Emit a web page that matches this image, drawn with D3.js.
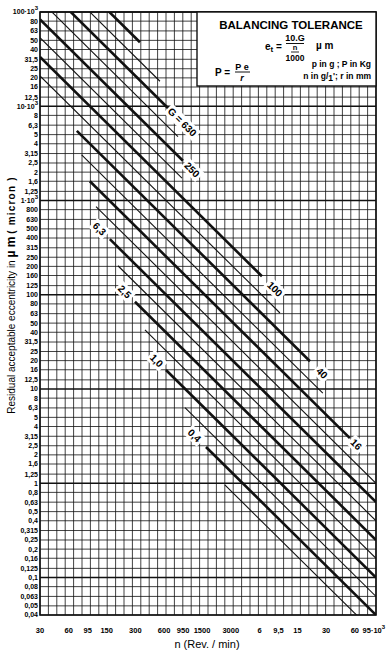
<!DOCTYPE html>
<html><head><meta charset="utf-8">
<script src="https://cdn.jsdelivr.net/npm/d3@7"></script>
<style>body{margin:0;background:#fff}svg{display:block}</style>
</head><body><svg id="c" width="392" height="653"></svg>
<script>
// ---------------- data ----------------
const yTickValues = [100000,80000,63000,50000,40000,31500,25000,20000,16000,12500,
  10000,8000,6300,5000,4000,3150,2500,2000,1600,1250,
  1000,800,630,500,400,315,250,200,160,125,
  100,80,63,50,40,31.5,25,20,16,12.5,
  10,8,6.3,5,4,3.15,2.5,2,1.6,1.25,
  1,0.8,0.63,0.5,0.4,0.315,0.25,0.2,0.16,0.125,
  0.1,0.08,0.063,0.05,0.04];
const yTickLabels = ["100·10^3","80","63","50","40","31,5","25","20","16","12,5",
  "10·10^3","8","6,3","5","4","3,15","2,5","2","1,6","1,25",
  "1·10^3","800","630","500","400","315","250","200","160","125",
  "100","80","63","50","40","31,5","25","20","16","12,5",
  "10","8","6,3","5","4","3,15","2,5","2","1,6","1,25",
  "1","0,8","0,63","0,5","0,4","0,315","0,25","0,2","0,16","0,125",
  "0,1","0,08","0,063","0,05","0,04"];
const xTickValues = [30,60,95,150,300,600,950,1500,3000,6000,9500,15000,30000,60000,95000];
const xTickLabels = ["30","60","95","150","300","600","950","1500","3000","6","9,5","15","30","60","95·10^3"];

// balance-quality lines: e = 10000·G / n  (µm), drawn from gStartN to gEndN
const gValues = [1600,1000,630,400,250,160,100,63,40,25,16,10,6.3,4,2.5,1.6,1,0.63,0.4,0.25];
const gThick  = [1,0,1,0,1,0,1,0,1,0,1,0,1,0,1,0,1,0,1,0];
const gStartN = [30,30,30,30,30,30,30,30,73,82,100,116,162,197,297,378,628,993,1650,2600];
const gEndN   = [335,543,762,839,946,924,6370,9840,20300,27700,53200,100000,100000,100000,100000,100000,100000,100000,100000,100000];

const gLabelText = ["G = 630","250","100","40","16","6,3","2,5","1,0","0,4"];
const gLabelG    = [630,250,100,40,16,6.3,2.5,1,0.4];
const gLabelN    = [927,1178,8700,27100,62000,126,232,500,1250];

// ---------------- layout ----------------
const svg = d3.select("#c");
const x = d3.scaleLog().domain([30,100000]).range([40,376]);
const y = d3.scaleLog().domain([0.04,100000]).range([615,12]);
const col = d3.scaleLinear().domain([0,40]).range(x.range());
const ink = "#111";
const font = "'Liberation Sans', Arial, sans-serif";

svg.append("defs").append("clipPath").attr("id","plot")
  .append("rect").attr("x",40).attr("y",12).attr("width",336).attr("height",603);

const grid = svg.append("g");
grid.selectAll("line.v").data(d3.range(41)).join("line")
  .attr("x1",d=>col(d)).attr("x2",d=>col(d)).attr("y1",12).attr("y2",615)
  .attr("stroke",ink).attr("stroke-width",0.8);
grid.selectAll("line.h").data(yTickValues).join("line")
  .attr("x1",40).attr("x2",376).attr("y1",d=>y(d)).attr("y2",d=>y(d))
  .attr("stroke",ink)
  .attr("stroke-width",(d,i)=> (i%10===0 ? 1.6 : 0.8));

// diagonal lines
const lineG = svg.append("g").attr("clip-path","url(#plot)");
lineG.selectAll("line").data(gValues).join("line")
  .attr("x1",(d,i)=>x(gStartN[i])).attr("y1",(d,i)=>y(10000*d/gStartN[i]))
  .attr("x2",(d,i)=>x(gEndN[i])).attr("y2",(d,i)=>y(10000*d/gEndN[i]))
  .attr("stroke",ink).attr("stroke-width",(d,i)=>gThick[i]?2.6:1.1);

// frame
svg.append("rect").attr("x",40).attr("y",12).attr("width",336).attr("height",603)
  .attr("fill","none").attr("stroke",ink).attr("stroke-width",1.6);

// labels on lines
const slopeAngle = Math.atan((603/Math.log10(100000/0.04))/(336/Math.log10(100000/30)))*180/Math.PI;
const lab = svg.append("g");
gLabelText.forEach((t,i)=>{
  const px = x(gLabelN[i]), py = y(10000*gLabelG[i]/gLabelN[i]);
  const g = lab.append("g").attr("transform",`translate(${px},${py}) rotate(${slopeAngle})`);
  const tx = g.append("text").attr("text-anchor","middle").attr("dy","0.35em")
    .attr("font-family",font).attr("font-weight","bold").attr("font-size",10).text(t);
  const bb = tx.node().getBBox();
  g.insert("rect","text").attr("x",bb.x-2).attr("y",bb.y-1).attr("width",bb.width+4).attr("height",bb.height+2).attr("fill","#fff");
});

// info box
const box = svg.append("g");
box.append("rect").attr("x",197).attr("y",12).attr("width",179).attr("height",74)
  .attr("fill","#fff").attr("stroke",ink).attr("stroke-width",1.4);
box.append("text").attr("x",291).attr("y",29).attr("text-anchor","middle")
  .attr("font-family",font).attr("font-weight","bold").attr("font-size",11.5).text("BALANCING TOLERANCE");
// e_t formula
box.append("text").attr("x",265).attr("y",50).attr("font-family",font).attr("font-weight","bold").attr("font-size",10)
  .html('e<tspan dy="2" font-size="8">t</tspan><tspan dy="-2"> =</tspan>');
box.append("text").attr("x",295).attr("y",41).attr("text-anchor","middle").attr("font-family",font).attr("font-weight","bold").attr("font-size",9).text("10.G");
box.append("line").attr("x1",286).attr("x2",304).attr("y1",43.5).attr("y2",43.5).attr("stroke",ink).attr("stroke-width",1);
box.append("text").attr("x",295).attr("y",50).attr("text-anchor","middle").attr("font-family",font).attr("font-weight","bold").attr("font-size",7.5).text("n");
box.append("line").attr("x1",291).attr("x2",299).attr("y1",52).attr("y2",52).attr("stroke",ink).attr("stroke-width",0.9);
box.append("text").attr("x",295).attr("y",60.5).attr("text-anchor","middle").attr("font-family",font).attr("font-weight","bold").attr("font-size",8.5).text("1000");
box.append("text").attr("x",316).attr("y",49).attr("font-family",font).attr("font-weight","bold").attr("font-size",10).text("µ m");
// P formula
box.append("text").attr("x",215).attr("y",76).attr("font-family",font).attr("font-weight","bold").attr("font-size",10).text("P =");
box.append("text").attr("x",242).attr("y",70).attr("text-anchor","middle").attr("font-family",font).attr("font-weight","bold").attr("font-size",9).text("P e");
box.append("line").attr("x1",235).attr("x2",250).attr("y1",72).attr("y2",72).attr("stroke",ink).attr("stroke-width",1);
box.append("text").attr("x",242).attr("y",81).attr("text-anchor","middle").attr("font-family",font).attr("font-weight","bold").attr("font-style","italic").attr("font-size",9).text("r");
box.append("text").attr("x",371).attr("y",67).attr("text-anchor","end").attr("font-family",font).attr("font-weight","bold").attr("font-size",8.5).text("p in g ; P in Kg");
box.append("text").attr("x",371).attr("y",79).attr("text-anchor","end").attr("font-family",font).attr("font-weight","bold").attr("font-size",8.5)
  .html('n in g/<tspan dy="2">1</tspan><tspan dy="-2">\'; r in mm</tspan>');

// axis labels
function supLabel(sel, s){
  const parts = s.split("^");
  sel.text(parts[0]);
  if(parts[1]) sel.append("tspan").attr("dy",-4).attr("font-size",6).text(parts[1]);
}
const yl = svg.append("g");
yTickValues.forEach((v,i)=>{
  const t = yl.append("text").attr("x",38).attr("y",y(v)).attr("dy","0.35em")
    .attr("text-anchor","end").attr("font-family",font).attr("font-weight","bold").attr("font-size",7);
  supLabel(t, yTickLabels[i]);
});
const xl = svg.append("g");
xTickValues.forEach((v,i)=>{
  const t = xl.append("text").attr("x",x(v)).attr("y",633)
    .attr("text-anchor","middle").attr("font-family",font).attr("font-weight","bold").attr("font-size",7.5);
  supLabel(t, xTickLabels[i]);
});

svg.append("text").attr("x",207).attr("y",648).attr("text-anchor","middle")
  .attr("font-family",font).attr("font-size",11).text("n (Rev. / min)");

svg.append("text").attr("transform","translate(15,295) rotate(-90)").attr("text-anchor","middle")
  .attr("font-family",font).attr("font-size",10)
  .html('Residual acceptable eccentricity in <tspan font-weight="bold" font-size="12">µ m</tspan>  <tspan font-weight="bold" letter-spacing="1.2">( micron )</tspan>');
</script></body></html>
